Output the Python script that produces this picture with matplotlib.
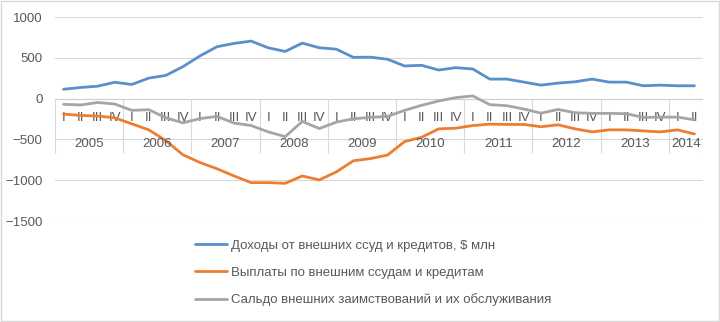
import matplotlib.pyplot as plt
import numpy as np
from matplotlib.patches import Rectangle

plt.rcParams['font.family'] = ['Liberation Sans', 'DejaVu Sans']

years = ["2005", "2006", "2007", "2008", "2009", "2010", "2011", "2012", "2013", "2014"]
quarters = ["I", "II", "III", "IV"] * 9 + ["I", "II"]

# доходы от внешних ссуд и кредитов, $ млн
income = [115, 136, 152, 200, 173, 251, 284, 391, 523, 636,
          676, 705, 623, 578, 680, 623, 606, 505, 508, 482,
          400, 408, 350, 379, 363, 239, 239, 202, 165, 190,
          206, 239, 202, 202, 157, 165, 157, 157]
# выплаты по внешним ссудам и кредитам
payments = [-190, -206, -214, -235, -309, -383, -515, -688, -783, -860,
            -948, -1030, -1030, -1038, -948, -997, -898, -762, -735, -692,
            -527, -474, -371, -363, -330, -313, -317, -317, -345, -321,
            -371, -408, -383, -383, -396, -408, -383, -433]
# сальдо
balance = [-70, -78, -48, -66, -144, -136, -235, -297, -245, -218,
           -300, -330, -408, -466, -280, -367, -288, -247, -230, -218,
           -144, -82, -29, 12, 33, -74, -87, -128, -178, -133,
           -173, -181, -181, -185, -231, -227, -227, -260]

labels = ["Доходы от внешних ссуд и кредитов, $ млн",
          "Выплаты по внешним ссудам и кредитам",
          "Сальдо внешних заимствований и их обслуживания"]
colors = ["#5B8FCB", "#ED7D31", "#A5A5A5"]

W, H = 720, 322
fig = plt.figure(figsize=(W / 100, H / 100), dpi=100)
fig.patches.append(Rectangle((0.001, 0.002), 0.997, 0.995, transform=fig.transFigure,
                             fill=False, edgecolor="#d9d9d9", lw=1))
ax = fig.add_axes([55 / W, 1 - 221 / H, 648 / W, 204 / H])

x = np.arange(len(quarters))
lines = []
for ser, c, lab in zip([income, payments, balance], colors, labels):
    ln, = ax.plot(x, ser, color=c, lw=2.0, solid_capstyle="round", label=lab, zorder=3)
    lines.append(ln)

ax.set_xlim(-0.5, len(quarters) - 0.5)
ax.set_ylim(-1500, 1000)
ax.set_yticks(np.arange(-1500, 1001, 500))
ax.yaxis.grid(True, color="#d9d9d9", lw=0.8)
ax.set_axisbelow(True)
for s in ax.spines.values():
    s.set_visible(False)
ax.tick_params(axis="y", length=0, pad=9, labelsize=9.5, labelcolor="#595959")
ax.set_xticks([])

# ось категорий на нуле
ax.axhline(0, color="#d0d0d0", lw=0.8, zorder=1)
px = 2500 / 204  # единиц на пиксель
bounds = [-0.5] + [i * 4 - 0.5 for i in range(1, 10)] + [len(quarters) - 0.5]
ax.vlines(bounds, -54 * px, 0, color="#d9d9d9", lw=0.8, zorder=1)
for i, q in enumerate(quarters):
    ax.text(i, -19 * px, q, ha="center", va="center", fontsize=9.5, color="#595959", zorder=2)
for k, yr in enumerate(years):
    lo = k * 4
    hi = min(lo + 3, len(quarters) - 1)
    ax.text((lo + hi) / 2, -45 * px, yr, ha="center", va="center", fontsize=9.5, color="#595959")

fig.legend(handles=lines, loc="center left", bbox_to_anchor=(195 / W, 1 - 273 / H),
           frameon=False, fontsize=9.5, handlelength=2.4, handletextpad=0.3,
           labelspacing=1.1, borderpad=0, borderaxespad=0, labelcolor="#595959")

fig.savefig("out.png", dpi=100)
